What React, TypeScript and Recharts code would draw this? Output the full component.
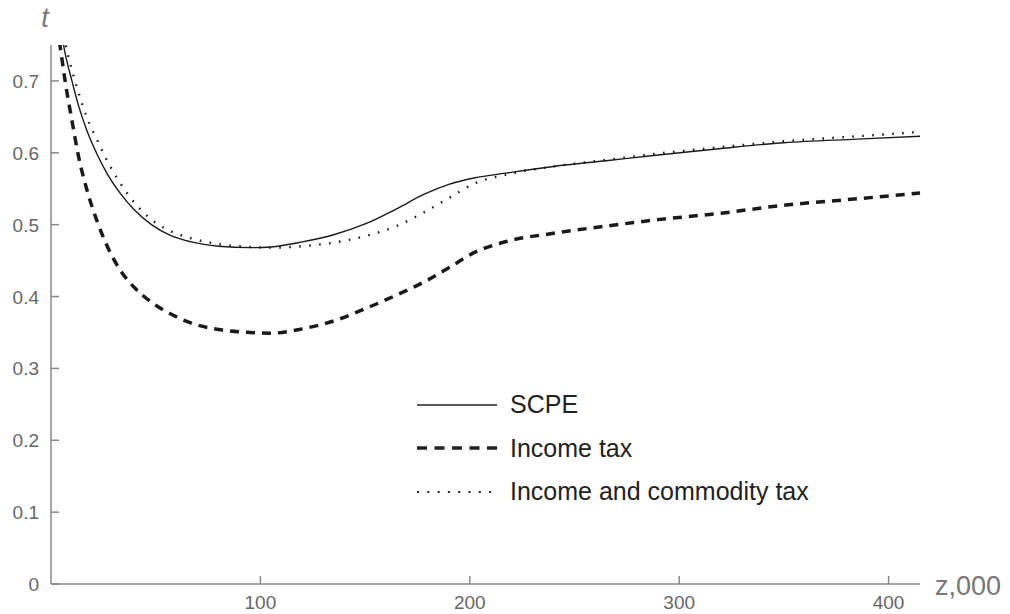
import React from "react";
import { LineChart, Line, XAxis, YAxis, Legend } from "recharts";

// z (thousands) sample points and tax rate t for each schedule
const zValues = [4, 5, 7, 10, 13, 17, 22, 27, 33, 40, 48, 57, 67, 80, 95, 105, 120, 135, 150, 165, 178, 190, 202, 218, 240, 265, 290, 320, 350, 385, 415];
const scpe = [0.78, 0.765, 0.735, 0.7, 0.667, 0.632, 0.598, 0.57, 0.544, 0.52, 0.5, 0.485, 0.476, 0.47, 0.468, 0.469, 0.476, 0.486, 0.501, 0.522, 0.542, 0.556, 0.565, 0.572, 0.581, 0.589, 0.597, 0.606, 0.614, 0.619, 0.623];
const incomeTax = [0.755, 0.735, 0.695, 0.645, 0.597, 0.55, 0.505, 0.469, 0.437, 0.412, 0.392, 0.376, 0.363, 0.354, 0.35, 0.349, 0.355, 0.366, 0.383, 0.402, 0.42, 0.44, 0.461, 0.477, 0.488, 0.498, 0.507, 0.516, 0.527, 0.536, 0.544];
const incomeCommodityTax = [0.79, 0.775, 0.75, 0.715, 0.685, 0.65, 0.618, 0.588, 0.558, 0.53, 0.507, 0.491, 0.481, 0.473, 0.469, 0.468, 0.47, 0.475, 0.484, 0.498, 0.517, 0.537, 0.557, 0.57, 0.581, 0.59, 0.599, 0.608, 0.616, 0.623, 0.629];

const xTicks = [100, 200, 300, 400];
const yTicks = [0, 0.1, 0.2, 0.3, 0.4, 0.5, 0.6, 0.7];

const data = zValues.map((z, i) => ({
  z,
  scpe: scpe[i],
  income: incomeTax[i],
  both: incomeCommodityTax[i],
}));

const series = [
  { key: "scpe", name: "SCPE", width: 1.4, dash: undefined, legendDash: undefined, legendWidth: 1.6 },
  { key: "income", name: "Income tax", width: 3.5, dash: "9 7", legendDash: "10 7.5", legendWidth: 3.6 },
  { key: "both", name: "Income and commodity tax", width: 2.4, dash: "1.6 8.4", legendDash: "2 8.3", legendWidth: 2.2 },
];

const AXIS = "#888";
const FONT = "'Liberation Sans', Arial, sans-serif";

function YTick(props: any) {
  const { x, y, payload } = props;
  return (
    <g>
      <line x1={x} x2={x + 8} y1={y} y2={y} stroke={AXIS} strokeWidth={1.5} />
      <text x={x - 12} y={y} dy={7} textAnchor="end" fontSize={19} fill="#666" fontFamily={FONT}>
        {payload.value === 0 ? "0" : payload.value.toFixed(1)}
      </text>
    </g>
  );
}

function XTick(props: any) {
  const { x, y, payload } = props;
  return (
    <g>
      <line x1={x} x2={x} y1={y - 8} y2={y} stroke={AXIS} strokeWidth={1.5} />
      <text x={x} y={y} dy={25} textAnchor="middle" fontSize={19} fill="#666" fontFamily={FONT}>
        {payload.value}
      </text>
    </g>
  );
}

function LegendBox() {
  return (
    <div style={{ fontFamily: FONT }}>
      {series.map((s) => (
        <div key={s.key} style={{ display: "flex", alignItems: "center", height: 43.5 }}>
          <svg width={80} height={10} style={{ display: "block" }}>
            <line x1={0} x2={80} y1={5} y2={5} stroke="#222" strokeWidth={s.legendWidth} strokeDasharray={s.legendDash} />
          </svg>
          <span style={{ marginLeft: 13, fontSize: 25, color: "#222", whiteSpace: "nowrap" }}>{s.name}</span>
        </div>
      ))}
    </div>
  );
}

export default function App() {
  return (
    <div style={{ position: "absolute", left: 0, top: 0, width: 1010, height: 614, background: "#fff" }}>
      <LineChart width={1010} height={614} data={data} margin={{ top: 45, right: 90, bottom: 0, left: 0 }}>
        <XAxis
          dataKey="z"
          type="number"
          domain={[0, 415]}
          ticks={xTicks}
          height={30}
          tickSize={0}
          tickMargin={0}
          tickLine={false}
          axisLine={{ stroke: AXIS, strokeWidth: 1.5 }}
          tick={<XTick />}
          label={{
            content: ({ viewBox }: any) => (
              <text x={viewBox.x + viewBox.width + 15} y={viewBox.y + 11} fontSize={27} fill="#777" fontFamily={FONT}>
                z,000
              </text>
            ),
          }}
        />
        <YAxis
          type="number"
          domain={[0, 0.75]}
          ticks={yTicks}
          allowDataOverflow
          width={51}
          tickSize={0}
          tickMargin={0}
          tickLine={false}
          axisLine={{ stroke: AXIS, strokeWidth: 1.5 }}
          tick={<YTick />}
          label={{
            content: ({ viewBox }: any) => (
              <text x={viewBox.x + viewBox.width - 6} y={viewBox.y - 18} textAnchor="middle" fontSize={27} fontStyle="italic" fill="#777" fontFamily={FONT}>
                t
              </text>
            ),
          }}
        />
        {series.map((s) => (
          <Line
            key={s.key}
            dataKey={s.key}
            name={s.name}
            type="monotone"
            stroke="#1a1a1a"
            strokeWidth={s.width}
            strokeDasharray={s.dash}
            dot={false}
            activeDot={false}
            isAnimationActive={false}
          />
        ))}
        <Legend
          layout="horizontal"
          align="center"
          verticalAlign="middle"
          content={<LegendBox />}
          wrapperStyle={{ position: "absolute", left: 417, top: 383, width: "auto", height: "auto" }}
        />
      </LineChart>
    </div>
  );
}
